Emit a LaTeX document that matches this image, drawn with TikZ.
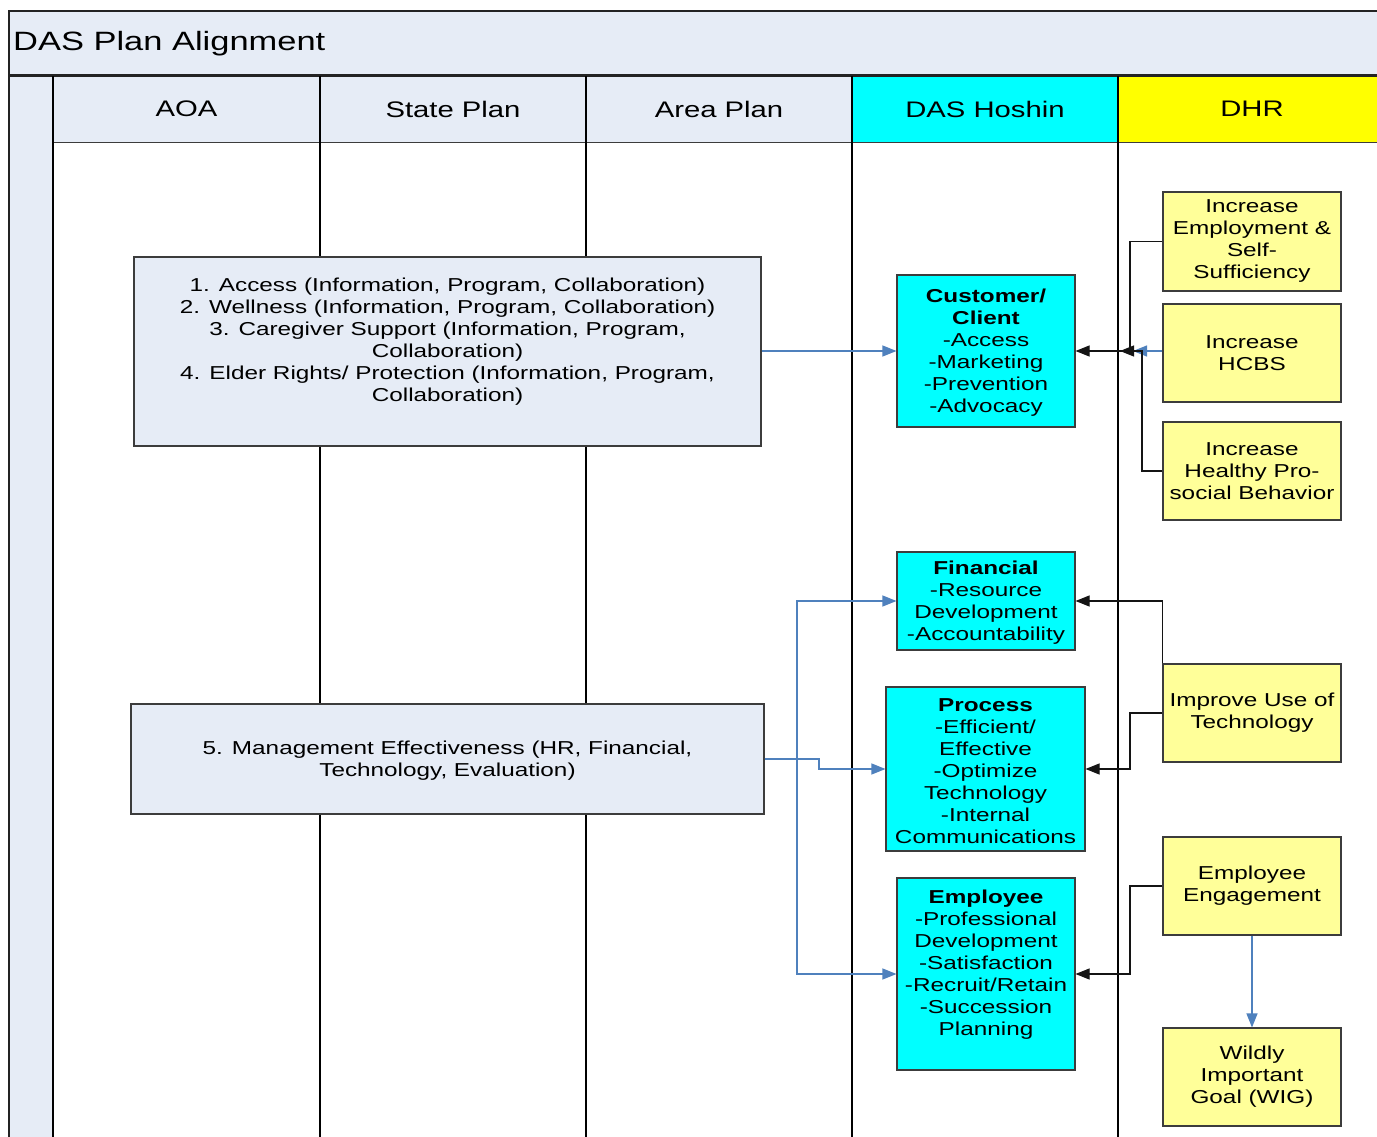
\documentclass[tikz,border=0pt]{standalone}
\usepackage{fontspec}
\setmainfont{Liberation Sans}[FakeStretch=1.3]
\usetikzlibrary{arrows.meta}

\definecolor{paleblue}{RGB}{230,236,246}
\definecolor{hoshin}{RGB}{0,255,255}
\definecolor{dhrhead}{RGB}{255,255,0}
\definecolor{dhrfill}{RGB}{255,255,153}
\definecolor{linkblue}{RGB}{79,129,189}
\definecolor{framedark}{RGB}{35,35,35}
\definecolor{boxedge}{RGB}{60,60,60}
\definecolor{linkdark}{RGB}{20,20,20}

\newcommand{\bodyfont}{\fontsize{18.7}{22}\selectfont}
\newcommand{\headfont}{\fontsize{22.5}{27}\selectfont}
\newcommand{\titlefont}{\fontsize{26.5}{30}\selectfont}

\begin{document}
\begin{tikzpicture}[x=1pt,y=-1pt,
  every node/.style={font=\bodyfont, align=center, inner sep=0pt},
  hdrcell/.style={draw=boxedge, line width=0.8pt, minimum height=66pt, font=\headfont},
  planbox/.style={draw=boxedge, line width=1.1pt, fill=paleblue},
  hoshinbox/.style={draw=boxedge, line width=1.1pt, fill=hoshin},
  dhrbox/.style={draw=boxedge, line width=1.1pt, fill=dhrfill, minimum width=178pt, minimum height=98pt},
  txt/.style={font=\bodyfont, yshift=-3pt},
  tip/.style={-{Triangle[length=14pt,width=11pt]}},
  bluelink/.style={draw=linkblue, line width=1.2pt, tip, color=linkblue},
  darklink/.style={draw=linkdark, line width=1.1pt, tip, color=linkdark},
  lane/.style={draw=black, line width=1.4pt}]

\useasboundingbox (0,0) rectangle (1377,1137);
\clip (0,0) rectangle (1377,1137);
\fill[white] (0,0) rectangle (1377,1137);

% title band and left strip
\fill[paleblue] (9,11) rectangle (1400,75);
\fill[paleblue] (9,75) rectangle (53,1150);
\node[font=\titlefont, anchor=west] (title) at (13,44) {DAS Plan Alignment};

% header cells
\node[hdrcell, fill=paleblue, minimum width=267pt] (hAOA)  at (186.5,109) {AOA};
\node[hdrcell, fill=paleblue, minimum width=266pt] (hState) at (453,109) {State Plan};
\node[hdrcell, fill=paleblue, minimum width=266pt] (hArea) at (719,109) {Area Plan};
\node[hdrcell, fill=hoshin, minimum width=266pt]   (hDAS)  at (985,109) {DAS Hoshin};
\node[hdrcell, fill=dhrhead, minimum width=268pt]  (hDHR)  at (1252,109) {DHR};

% frame and lanes
\draw[framedark, line width=1.6pt] (9,1150) -- (9,11) -- (1400,11);
\draw[framedark, line width=2.6pt] (9,75.5) -- (1400,75.5);
\draw[lane] (53,76) -- (53,1150);
\foreach \x in {320,586,852,1118}
  \draw[lane] (\x,76) -- (\x,1150);

% plan boxes
\node[planbox, minimum width=627pt, minimum height=189pt] (goals) at (447.5,351.5) {};
\node[txt] (goals-txt) at (447.5,339) {1. Access (Information, Program, Collaboration)\\
2. Wellness (Information, Program, Collaboration)\\
3. Caregiver Support (Information, Program,\\
Collaboration)\\
4. Elder Rights/ Protection (Information, Program,\\
Collaboration)};

\node[planbox, minimum width=633pt, minimum height=110pt] (mgmt) at (447.5,759) {};
\node[txt] (mgmt-txt) at (447.5,758) {5. Management Effectiveness (HR, Financial,\\
Technology, Evaluation)};

% DAS Hoshin boxes
\node[hoshinbox, minimum width=178pt, minimum height=152pt] (cust) at (986,351) {};
\node[txt] (cust-txt) at (986,350) {\textbf{Customer/}\\\textbf{Client}\\-Access\\-Marketing\\-Prevention\\-Advocacy};

\node[hoshinbox, minimum width=178pt, minimum height=98pt] (fin) at (986,601) {};
\node[txt] (fin-txt) at (986,600) {\textbf{Financial}\\-Resource\\Development\\-Accountability};

\node[hoshinbox, minimum width=199pt, minimum height=164pt] (proc) at (985.5,769) {};
\node[txt] (proc-txt) at (985.5,768.5) {\textbf{Process}\\-Efficient/\\Effective\\-Optimize\\Technology\\-Internal\\Communications};

\node[hoshinbox, minimum width=178pt, minimum height=192pt] (empl) at (986,974) {};
\node[txt] (empl-txt) at (986,962) {\textbf{Employee}\\-Professional\\Development\\-Satisfaction\\-Recruit/Retain\\-Succession\\Planning};

% DHR boxes
\node[dhrbox, minimum height=99pt] (emp)  at (1252,241.5) {Increase\\Employment \&\\Self-\\Sufficiency};
\node[dhrbox] (hcbs) at (1252,353) {Increase\\HCBS};
\node[dhrbox] (heal) at (1252,471) {Increase\\Healthy Pro-\\social Behavior};
\node[dhrbox] (tech) at (1252,713) {Improve Use of\\Technology};
\node[dhrbox] (eng)  at (1252,886) {Employee\\Engagement};
\node[dhrbox] (wig)  at (1252,1077) {Wildly\\Important\\Goal (WIG)};

% junction points on the DHR side
\coordinate (jEmp)  at (1120,351);
\coordinate (jHcbs) at (1133,351);

% plan goals to DAS Hoshin
\draw[bluelink] (goals.east |- cust.west) -- (cust.west);
\draw[bluelink] (mgmt.east) -- (797,759) |- (fin.west);
\draw[bluelink] (mgmt.east) -- (797,759) |- (empl.west);
\draw[bluelink] (mgmt.east) -- (819,759) |- (proc.west);

% DHR goals to DAS Hoshin
\draw[darklink] (emp.west) -| (1130,351) -- (jEmp);
\draw[bluelink] (hcbs.west |- jHcbs) -- (jHcbs);
\draw[darklink] (heal.west) -| (1142,351) -- (cust.east);
\draw[darklink] (tech.north west) |- (fin.east);
\draw[darklink] (tech.west) -- (1130,713) |- (proc.east);
\draw[darklink] (eng.west) -- (1130,886) |- (empl.east);
\draw[bluelink] (eng.south) -- (wig.north);
\end{tikzpicture}
\end{document}
